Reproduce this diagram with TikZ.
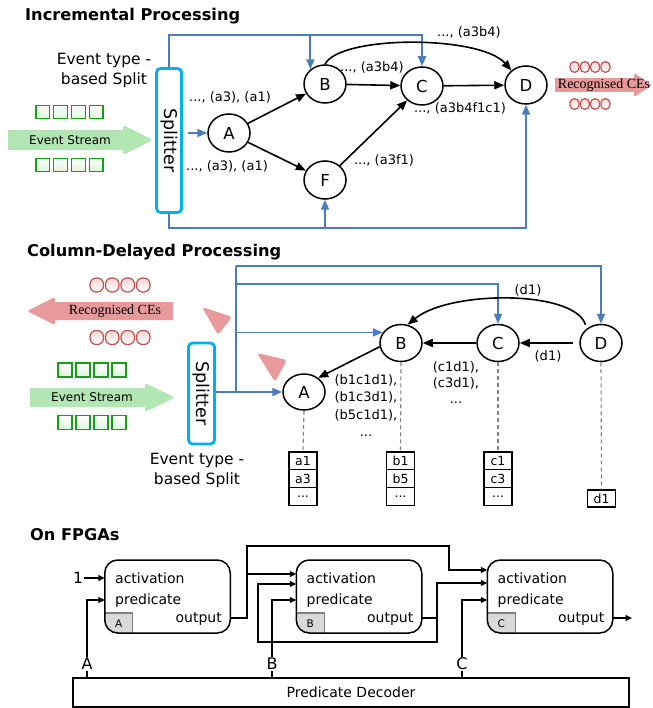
\documentclass[tikz,border=0pt]{standalone}
\usepackage{fontspec}
\setmainfont{DejaVu Sans}
\newfontfamily\cefont{Liberation Serif}
\usetikzlibrary{shapes.geometric,arrows.meta}

\definecolor{flowblue}{RGB}{74,126,187}
\definecolor{splitcyan}{RGB}{0,176,240}
\definecolor{streamgreen}{RGB}{178,230,178}
\definecolor{evgreen}{RGB}{20,160,20}
\definecolor{evgreenfill}{RGB}{222,244,222}
\definecolor{cepink}{RGB}{232,154,154}
\definecolor{cered}{RGB}{192,80,77}
\definecolor{cefill}{RGB}{248,214,214}
\definecolor{tabgray}{RGB}{217,217,217}
\definecolor{tabedge}{RGB}{128,128,128}
\definecolor{dashgray}{RGB}{128,128,128}

\newcommand\myfs[2]{\fontsize{#1}{#2}\selectfont}

\tikzset{
  headline/.style={font=\bfseries\myfs{16.2}{19}, anchor=west, inner sep=0pt},
  blueflow/.style={draw=flowblue, line width=1.8pt},
  bluetip/.style={-{Triangle[length=10pt,width=8pt]}},
  edgeblk/.style={draw=black, line width=1.6pt, -{Triangle[length=10pt,width=8pt]}},
  statenode/.style={ellipse, draw, line width=1.5pt, minimum width=42pt,
    minimum height=38pt, inner sep=0pt, font=\myfs{16.5}{19}},
  splitbox/.style={draw=splitcyan, line width=2.8pt, rounded corners=4pt, inner sep=0pt},
  splittext/.style={rotate=-90, font=\myfs{17.5}{20}, inner sep=0pt},
  lbl/.style={font=\myfs{13}{15}, inner sep=0pt},
  evsq/.style={draw=evgreen, line width=1.2pt, top color=white, bottom color=evgreenfill,
    minimum size=13.5pt, inner sep=0pt},
  ceoval/.style={draw=cered, line width=1.2pt, top color=cefill, bottom color=white, inner sep=0pt},
  smalloval/.style={ceoval, minimum width=9pt, minimum height=10.5pt, rounded corners=4.2pt},
  bigoval/.style={ceoval, minimum width=13.5pt, minimum height=14pt, rounded corners=6.2pt},
  cetext/.style={font=\cefont\myfs{14}{16}, inner sep=0pt, text=black},
  streamtext/.style={font=\myfs{12}{14}, inner sep=0pt},
  splitnote/.style={font=\myfs{15.5}{20}, align=center, inner sep=0pt},
  dashline/.style={draw=dashgray, line width=1.1pt, dash pattern=on 4pt off 3pt},
  cell/.style={draw, line width=1.2pt, minimum width=28pt, minimum height=17.7pt,
    inner sep=0pt, font=\myfs{12.5}{14}},
  fpgablk/.style={draw, line width=1.5pt, rounded corners=13pt, minimum width=125.5pt,
    minimum height=73pt, inner sep=0pt},
  blktxt/.style={font=\myfs{14}{16}, inner sep=0pt},
  wire/.style={line width=1.5pt},
  wiretip/.style={wire, -{Triangle[length=6.5pt,width=6pt]}},
  sel/.style={font=\myfs{16}{18}, inner sep=1pt},
}

\begin{document}
\begin{tikzpicture}[x=1pt,y=-1pt]
\useasboundingbox (0,0) rectangle (652,708);

% ---------------- headings ----------------
\node[headline] (t1) at (25,16) {Incremental Processing};
\node[headline] (t2) at (27,252) {Column-Delayed Processing};
\node[headline] (t3) at (30,535) {On FPGAs};

% ================= incremental processing =================
% input stream
\fill[streamgreen] (8,130) -- (123,130) [rounded corners=2.5pt] -- (123,125) -- (153,140)
  -- (123,155) [sharp corners] -- (123,150) -- (8,150) -- cycle;
\node[streamtext] (es1) at (70,140) {Event Stream};
\foreach \i in {0,...,3} {
  \node[evsq] (sqa\i) at (42.75+17.8*\i,112) {};
  \node[evsq] (sqb\i) at (42.75+17.8*\i,165) {};
}
\node[splitnote] (ets1) at (104,70) {Event type -\\based Split};

% splitter
\node[splitbox, minimum width=25pt, minimum height=144pt] (sp1) at (169,140.5) {};
\node[splittext] (sp1t) at (sp1) {Splitter};

% states
\node[statenode] (A) at (229,133) {A};
\node[statenode] (B) at (325,84) {B};
\node[statenode] (C) at (422,86) {C};
\node[statenode] (D) at (526,85) {D};
\node[statenode] (F) at (325,180) {F};

% splitter feeds
\coordinate (bus1) at (169,35);
\coordinate (bus2) at (169,228);
\draw[blueflow, bluetip] (sp1.north) -- (bus1) -| (C.north);
\draw[blueflow, bluetip] (bus1 -| B.135) -- (B.135);
\draw[blueflow, bluetip] (sp1.south) -- (bus2) -| (D.south);
\draw[blueflow, bluetip] (bus2 -| F.south) -- (F.south);
\draw[blueflow, bluetip] (sp1.east |- A.west) ++(5,0) -- (A.west);

% partial matches
\draw[edgeblk] (A) -- (B);
\draw[edgeblk] (A) -- (F);
\draw[edgeblk] (B) -- (C);
\draw[edgeblk] (C) -- (D);
\draw[edgeblk] (F) -- (C);
\draw[edgeblk] (B.north) .. controls (340,35) and (480,35) .. (D.135);

\node[lbl] (la1) at (230,97) {..., (a3), (a1)};
\node[lbl] (la2) at (227,166) {..., (a3), (a1)};
\node[lbl] (lbc) at (372,67) {..., (a3b4)};
\node[lbl] (lbd) at (469,32) {..., (a3b4)};
\node[lbl] (lcd) at (460,108) {..., (a3b4f1c1)};
\node[lbl] (lfc) at (384,160) {..., (a3f1)};

% output stream
\fill[cepink] (555,78) -- (634,78) [rounded corners=2pt] -- (634,73) -- (652,85)
  -- (634,97) [sharp corners] -- (634,92) -- (555,92) -- cycle;
\node[cetext] (ce1) at (604,85) {Recognised CEs};
\foreach \i in {0,...,3} {
  \node[smalloval] (cea\i) at (574.5+10.3*\i,67) {};
  \node[smalloval] (ceb\i) at (574.5+10.3*\i,104) {};
}

% ================= column-delayed processing =================
% output stream (leftwards)
\fill[cepink] (173,302) -- (55,302) [rounded corners=2.5pt] -- (55,297) -- (27,311)
  -- (55,325) [sharp corners] -- (55,320) -- (173,320) -- cycle;
\node[cetext] (ce2) at (115,311) {Recognised CEs};
\foreach \i in {0,...,3} {
  \node[bigoval] (cec\i) at (96.75+15.5*\i,285) {};
  \node[bigoval] (ced\i) at (96.75+15.5*\i,337.5) {};
}
% input stream
\fill[streamgreen] (30,388) -- (145,388) [rounded corners=2.5pt] -- (145,383) -- (175,397.5)
  -- (145,412) [sharp corners] -- (145,407) -- (30,407) -- cycle;
\node[streamtext] (es2) at (92,397.5) {Event Stream};
\foreach \i in {0,...,3} {
  \node[evsq, minimum size=14pt] (sqc\i) at (65+18*\i,370) {};
  \node[evsq, minimum size=14pt] (sqd\i) at (65+18*\i,422.5) {};
}
% direction markers
\fill[cepink, rounded corners=3pt] (202,307) -- (232,317) -- (218,335) -- cycle;
\fill[cepink, rounded corners=3pt] (257,353) -- (287,360) -- (275,382) -- cycle;

% splitter
\node[splitbox, minimum width=26pt, minimum height=101pt] (sp2) at (201.5,393.5) {};
\node[splittext] (sp2t) at (sp2) {Splitter};
\node[splitnote] (ets2) at (197,470) {Event type -\\based Split};

% states
\node[statenode, minimum height=36pt] (A2) at (304,392) {A};
\node[statenode, minimum height=37pt] (B2) at (401,343) {B};
\node[statenode, minimum height=37pt] (C2) at (498,343) {C};
\node[statenode, minimum height=37pt] (D2) at (601,343) {D};

% splitter feeds
\coordinate (trunk) at (236,392);
\coordinate (bus3) at (236,266);
\coordinate (bus4) at (236,284);
\draw[blueflow, bluetip] (sp2.east |- A2.west) -- (A2.west);
\draw[blueflow] (trunk) -- (bus3);
\draw[blueflow, bluetip] (bus3) -| (D2.north);
\draw[blueflow, bluetip] (bus4) -| (C2.north);
\draw[blueflow, bluetip] (trunk |- B2.150) -- (B2.150);

% backward matches
\draw[edgeblk, shorten <=6pt] (D2) -- (C2);
\draw[edgeblk] (C2) -- (B2);
\draw[edgeblk] (B2.190) -- (A2.45);
\draw[edgeblk, shorten <=4pt] (D2.135) .. controls (575,290) and (450,290) .. (B2.70);

\node[lbl] (ld1) at (528,290) {(d1)};
\node[lbl] (ld2) at (548,356) {(d1)};
\node[lbl, align=center, anchor=north, font=\myfs{13}{17.5}] (lbb) at (366,374)
  {(b1c1d1),\\(b1c3d1),\\(b5c1d1),\\...};
\node[lbl, align=center, anchor=north, font=\myfs{13}{16}] (lcc) at (456,361)
  {(c1d1),\\(c3d1),\\...};

% event buffers
\node[cell] (sa1) at (303,460.85) {a1};
\node[cell] (sa2) at (303,478.55) {a3};
\node[cell] (sa3) at (303,496.25) {...};
\node[cell] (sb1) at (400.5,460.85) {b1};
\node[cell] (sb2) at (400.5,478.55) {b5};
\node[cell] (sb3) at (400.5,496.25) {...};
\node[cell] (sc1) at (498,460.85) {c1};
\node[cell] (sc2) at (498,478.55) {c3};
\node[cell] (sc3) at (498,496.25) {...};
\node[cell, minimum height=17pt] (sd1) at (601.5,498.5) {d1};

\draw[dashline] (A2.south) -- (sa1.north);
\draw[dashline] (B2.south) -- (sb1.north);
\draw[dashline] (C2.south) -- (sc1.north);
\draw[dashline] (D2.south) -- (sd1.north);

% ================= FPGA pipeline =================
\foreach \n/\cx in {A/167.5,B/359,C/550} {
  \begin{scope}
    \clip[rounded corners=13pt] (\cx-62.75,560) rectangle (\cx+62.75,633);
    \fill[tabgray] (\cx-62.75,613) rectangle (\cx-34.75,633);
  \end{scope}
  \draw[tabedge, line width=1.2pt] (\cx-62.75,613) -- (\cx-34.75,613) -- (\cx-34.75,633);
  \node[font=\myfs{10.5}{12}, inner sep=0pt] (tab\n) at (\cx-48.75,624) {\n};
  \node[fpgablk] (blk\n) at (\cx,596.5) {};
  \node[blktxt, anchor=base west] (act\n) at (\cx-52.5,583) {activation};
  \node[blktxt, anchor=base west] (pred\n) at (\cx-52.5,604) {predicate};
  \node[blktxt, anchor=base east] (out\n) at (\cx+54.5,622.5) {output};
}

\node[draw, line width=1.4pt, minimum width=556pt, minimum height=29pt, inner sep=0pt,
  font=\myfs{14}{16}] (dec) at (351,692.5) {Predicate Decoder};

% ports
\coordinate (A-act) at (104.75,578);
\coordinate (A-pred) at (104.75,600);
\coordinate (A-out) at (230.25,618);
\coordinate (B-act) at (296.25,574);
\coordinate (B-loop) at (296.25,584);
\coordinate (B-pred) at (296.25,600);
\coordinate (B-out) at (421.75,618);
\coordinate (C-act) at (487.25,570);
\coordinate (C-loop) at (487.25,583);
\coordinate (C-pred) at (487.25,600);
\coordinate (C-out) at (612.75,618);
\coordinate (C-end) at (632,618);

\node[font=\myfs{15.5}{18}, inner sep=1pt] (one) at (78,578) {1};
\draw[wiretip] (one.east) -- (A-act);

% predicate selects from the decoder
\node[sel] (selA) at (87,664) {A};
\node[sel] (selB) at (272,664) {B};
\node[sel] (selC) at (462,664) {C};
\draw[wire] (selA.south) -- (selA.south |- dec.north);
\draw[wire] (selB.south) -- (selB.south |- dec.north);
\draw[wire] (selC.south) -- (selC.south |- dec.north);
\draw[wiretip] (selA.north) |- (A-pred);
\draw[wiretip] (selB.north) |- (B-pred);
\draw[wiretip] (selC.north) |- (C-pred);

% activation chain
\draw[wiretip] (A-out) -| (247,546) -| (449,570) -- (C-act);
\draw[wiretip] (247,574) -- (B-act);
\draw[wiretip] (B-out) -| (437,583) -- (C-loop);
\draw[wiretip] (437,618) |- (258,642) |- (B-loop);
\draw[wiretip] (C-out) -- (C-end);

\end{tikzpicture}
\end{document}
